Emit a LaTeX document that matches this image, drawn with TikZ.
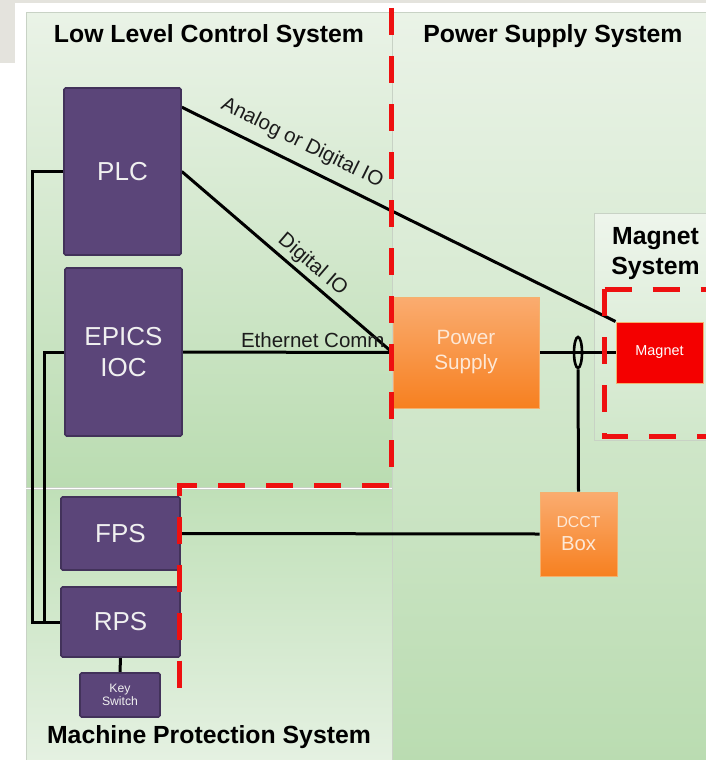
\documentclass[tikz,border=0pt]{standalone}
\usepackage{fontspec}
\setmainfont{Liberation Sans}
\usetikzlibrary{calc,shapes.geometric}

\definecolor{pagegray}{RGB}{228,227,221}
\definecolor{paneledge}{RGB}{200,210,197}
\definecolor{greenlight}{RGB}{234,243,231}
\definecolor{greendeep}{RGB}{186,220,177}
\definecolor{greenmid}{RGB}{192,224,184}
\definecolor{greenpale}{RGB}{229,241,226}
\definecolor{magpaneltop}{RGB}{238,245,236}
\definecolor{magpanelbot}{RGB}{208,231,202}
\definecolor{boxpurple}{RGB}{91,69,121}
\definecolor{boxpurpleedge}{RGB}{66,50,90}
\definecolor{boxtext}{RGB}{240,240,240}
\definecolor{orangetop}{RGB}{250,172,112}
\definecolor{orangebot}{RGB}{247,128,32}
\definecolor{orangeedge}{RGB}{244,176,110}
\definecolor{orangetext}{RGB}{253,232,214}
\definecolor{magnetred}{RGB}{244,0,0}
\definecolor{dashred}{RGB}{238,16,16}
\definecolor{labelgray}{RGB}{28,28,28}

\pgfdeclarelayer{panels}
\pgfdeclarelayer{wires}
\pgfdeclarelayer{marks}
\pgfsetlayers{panels,wires,main,marks}

\tikzset{
  panel/.style={draw=paneledge, line width=0.8pt, inner sep=0pt, anchor=north west},
  ctrlbox/.style={draw=boxpurpleedge, line width=1.6pt, fill=boxpurple, text=boxtext,
    rounded corners=1.5pt, inner sep=0pt, align=center, font=\fontsize{26}{31}\selectfont},
  psbox/.style={draw=orangeedge, line width=1pt, top color=orangetop, bottom color=orangebot,
    text=orangetext, inner sep=0pt, align=center},
  wire/.style={line width=3pt, black},
  boundary/.style={dashred, line width=5pt, dash pattern=on 27pt off 21pt},
  title/.style={font=\bfseries\fontsize{24.8}{30}\selectfont, inner sep=0pt, align=center},
  wirelabel/.style={font=\fontsize{20.5}{24}\selectfont, text=labelgray, sloped},
}

\begin{document}
\begin{tikzpicture}[x=1pt,y=-1pt]
\useasboundingbox (0,0) rectangle (706,760);

\begin{pgfonlayer}{panels}
  \fill[white] (0,0) rectangle (706,760);
  \fill[pagegray] (0,0) rectangle (706,3.5);
  \fill[pagegray] (0,0) rectangle (15,63);
  % system areas
  \node[panel, minimum width=366pt, minimum height=475pt,
        top color=greenlight, bottom color=greendeep] (llc) at (26,12) {};
  \node[panel, minimum width=366pt, minimum height=273pt,
        top color=greenmid, bottom color=greenpale] (mps) at (26,489) {};
  \node[panel, minimum width=316pt, minimum height=750pt,
        top color=greenlight, bottom color=greendeep] (pss) at (392,12) {};
  \node[panel, minimum width=116pt, minimum height=227pt,
        top color=magpaneltop, bottom color=magpanelbot] (mss) at (594,213) {};
  % area titles
  \node[title, anchor=base] (tllc) at (209,43) {Low Level Control System};
  \node[title, anchor=base] (tpss) at (553,43) {Power Supply System};
  \node[title, anchor=north] (tmss) at (655.5,227.2) {Magnet\\System};
  \node[title, anchor=base] (tmps) at (209,743) {Machine Protection System};
\end{pgfonlayer}

% devices
\node[ctrlbox, minimum width=117pt, minimum height=167pt] (plc) at (122.5,171.5) {PLC};
\node[ctrlbox, minimum width=117pt, minimum height=168pt] (ioc) at (123.5,352) {EPICS\\IOC};
\node[ctrlbox, minimum width=119pt, minimum height=73pt] (fps) at (120.5,533.5) {FPS};
\node[ctrlbox, minimum width=119pt, minimum height=70pt] (rps) at (120.5,622) {RPS};
\node[ctrlbox, minimum width=80pt, minimum height=44pt,
      font=\fontsize{12.2}{10}\selectfont] (key) at (120,695) {Key\\Switch};
\node[psbox, minimum width=146pt, minimum height=111pt,
      font=\fontsize{20.7}{25}\selectfont] (ps) at (466,352.5) {Power\\Supply};
\node[psbox, minimum width=77pt, minimum height=84pt,
      font=\fontsize{20.3}{23}\selectfont] (dcct) at (578.5,534)
      {{\fontsize{15.8}{19}\selectfont DCCT}\\Box};
\node[draw=orangeedge, line width=1pt, fill=magnetred, text=white, inner sep=0pt,
      minimum width=87pt, minimum height=61pt,
      font=\fontsize{14.4}{17}\selectfont] (mag) at (659.5,352.5) {Magnet};
\node[draw, ellipse, line width=2.6pt, minimum width=8pt, minimum height=31pt,
      inner sep=0pt] (ct) at (578,352.5) {};

% connections
\begin{pgfonlayer}{wires}
  \draw[wire] ($(plc.north east)+(0,20)$) --
    node[wirelabel, pos=0.256, above=6.4pt] {Analog or Digital IO} (mag.north west);
  \draw[wire] (plc.east) -- node[wirelabel, pos=0.576, above] {Digital IO} (ps.west);
  \draw[wire] (ioc.east) -- node[wirelabel, pos=0.62, above] {Ethernet Comm} (ps.west);
  \draw[wire] (ps.east) -- (mag.west);
  \draw[wire] (ct.south) -- (dcct.north);
  \draw[wire] (fps.east) -- (dcct.west);
  \draw[wire] (plc.west) -- ++(-31,0) |- (rps.west);
  \draw[wire] (ioc.west) -- ++(-20,0) |- (rps.west);
  \draw[wire] (rps.south) -- (key.north);
\end{pgfonlayer}

% system boundaries
\begin{pgfonlayer}{marks}
  \draw[boundary] (391,8) -- (391,485.5) -- (179.5,485.5) -- (179.5,707);
  \draw[boundary] (604.5,289) -- (712,289);
  \draw[boundary] (604.5,289) -- (604.5,436.5) -- (712,436.5);
\end{pgfonlayer}
\end{tikzpicture}
\end{document}
